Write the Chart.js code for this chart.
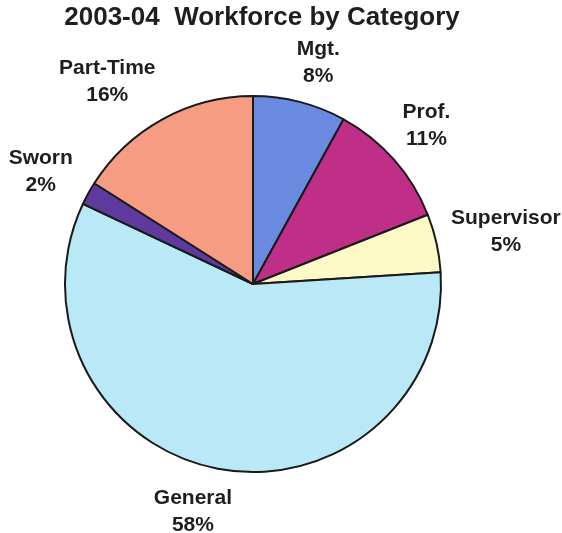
<!DOCTYPE html>
<html>
<head>
<meta charset="utf-8">
<script src="https://cdn.jsdelivr.net/npm/chart.js@4/dist/chart.umd.min.js"></script>
<style>
  html, body { margin: 0; padding: 0; background: #fff; }
  #wrap { width: 562px; height: 533px; }
</style>
</head>
<body>
<div id="wrap"><canvas id="pie"></canvas></div>
<script>
const chartTitle = '2003-04  Workforce by Category';
const categories = ['Mgt.', 'Prof.', 'Supervisor', 'General', 'Sworn', 'Part-Time'];
const percents = [8, 11, 5, 58, 2, 16];
const sliceColors = ['#6a8ae0', '#bf2f88', '#fdfac8', '#b9e9f6', '#5e3a9e', '#f59c82'];

// small angular nudges (degrees, clockwise) for the outside labels
const labelShift = [2, -1, 1, 4, -1, -7];

const LABEL_FONT = 'bold 21px "Liberation Sans", Arial, sans-serif';
const LINE_H = 27;

// title + category/percent labels outside each slice
const pieLabels = {
    id: 'pieLabels',
    afterDraw(chart) {
        const ctx = chart.ctx;
        ctx.save();
        ctx.fillStyle = '#1e1e1e';
        ctx.textAlign = 'center';
        ctx.textBaseline = 'middle';

        ctx.font = 'bold 26px "Liberation Sans", Arial, sans-serif';
        ctx.fillText(chartTitle, 262, 18);

        ctx.font = LABEL_FONT;
        const meta = chart.getDatasetMeta(0);
        meta.data.forEach((arc, i) => {
            const p = arc.getProps(['x', 'y', 'startAngle', 'endAngle', 'outerRadius'], true);
            const mid = (p.startAngle + p.endAngle) / 2 + labelShift[i] * Math.PI / 180;
            const lines = [categories[i], percents[i] + '%'];
            const hw = Math.max(...lines.map(t => ctx.measureText(t).width)) / 2;
            const hh = LINE_H;
            const c = Math.cos(mid), s = Math.sin(mid);
            const dist = p.outerRadius + 11 + hw * Math.abs(c) + hh * Math.abs(s);
            const cx = p.x + dist * c;
            const cy = p.y + dist * s;
            ctx.fillText(lines[0], cx, cy - LINE_H / 2);
            ctx.fillText(lines[1], cx, cy + LINE_H / 2);
        });
        ctx.restore();
    }
};

new Chart(document.getElementById('pie'), {
    type: 'pie',
    data: {
        labels: categories,
        datasets: [{
            data: percents,
            backgroundColor: sliceColors,
            borderColor: '#1a1a1a',
            borderWidth: 2,
            radius: 188
        }]
    },
    options: {
        responsive: true,
        maintainAspectRatio: false,
        animation: false,
        layout: { padding: { left: 65, right: 121, top: 96, bottom: 61 } },
        plugins: {
            legend: { display: false },
            tooltip: { enabled: false }
        }
    },
    plugins: [pieLabels]
});
</script>
</body>
</html>
